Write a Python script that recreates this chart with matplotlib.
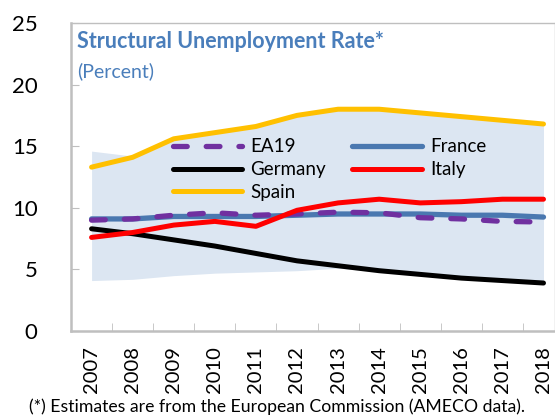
import numpy as np
import matplotlib
matplotlib.use('Agg')
import matplotlib.pyplot as plt

# values (percent)
years = ['2007', '2008', '2009', '2010', '2011', '2012',
         '2013', '2014', '2015', '2016', '2017', '2018']
ea19 = [9.0, 9.1, 9.4, 9.6, 9.4, 9.5, 9.65, 9.6, 9.2, 9.1, 8.9, 8.85]
france = [9.1, 9.1, 9.3, 9.3, 9.3, 9.4, 9.5, 9.5, 9.5, 9.4, 9.4, 9.25]
germany = [8.3, 7.9, 7.4, 6.9, 6.3, 5.7, 5.3, 4.9, 4.6, 4.3, 4.1, 3.9]
italy = [7.6, 8.0, 8.6, 8.9, 8.5, 9.8, 10.4, 10.7, 10.4, 10.5, 10.7, 10.7]
spain = [13.3, 14.1, 15.6, 16.1, 16.6, 17.5, 18.0, 18.0, 17.7, 17.4, 17.1, 16.8]
range_low = [4.1, 4.2, 4.5, 4.7, 4.8, 4.9, 5.1, 4.9, 4.6, 4.3, 4.1, 3.9]
range_high = [14.6, 14.2, 15.6, 16.1, 16.6, 17.5, 18.0, 18.0, 17.7, 17.4, 17.1, 16.8]

plt.rcParams['font.family'] = ['Lato', 'DejaVu Sans']

fig = plt.figure(figsize=(5.55, 4.17), dpi=100)
ax = fig.add_axes([0.128, 0.206, 0.872, 0.739])

x = np.arange(len(years))
ax.fill_between(x, range_low, range_high, color='#dce6f2', lw=0, zorder=1)

ax.plot(x, france, color='#4a78b0', lw=3.8, label='France', zorder=3, solid_capstyle='round')
ax.plot(x, ea19, color='#7030a0', lw=3.8, ls=(0, (2.6, 3.6)), label='EA19', zorder=4,
        dash_capstyle='round')
ax.plot(x, germany, color='black', lw=3.6, label='Germany', zorder=3, solid_capstyle='round')
ax.plot(x, italy, color='#ff0000', lw=3.6, label='Italy', zorder=5, solid_capstyle='round')
ax.plot(x, spain, color='#ffc000', lw=3.6, label='Spain', zorder=5, solid_capstyle='round')

ax.set_ylim(0, 25)
ax.set_xlim(-0.5, 11.28)
ax.set_yticks([0, 5, 10, 15, 20, 25])
ax.tick_params(axis='y', direction='in', length=6, color='#bfbfbf', labelsize=16, pad=24)
ax.set_xticks(x)
ax.set_xticklabels(years, rotation=90, fontsize=14.5)
ax.tick_params(axis='x', which='major', length=0, pad=11)
ax.set_xticks(x[:-1] + 0.5, minor=True)
ax.tick_params(axis='x', which='minor', direction='in', length=6, color='#bfbfbf')
for s in ax.spines.values():
    s.set_color('#bfbfbf')
    s.set_linewidth(1.0)
ax.spines['left'].set_linewidth(1.8)
ax.spines['bottom'].set_linewidth(1.8)

# legend order as in the reference
handles, labels = ax.get_legend_handles_labels()
order = [labels.index(n) for n in ['EA19', 'Germany', 'Spain', 'France', 'Italy']]
ax.legend([handles[i] for i in order], [labels[i] for i in order], ncol=2, frameon=False,
          fontsize=13.5, handlelength=3.7, handletextpad=0.45, columnspacing=1.4,
          labelspacing=0.3, loc='center left', bbox_to_anchor=(0.21, 0.524),
          borderaxespad=0, borderpad=0)

ax.text(0.012, 0.975, 'Structural Unemployment Rate*', transform=ax.transAxes,
        color='#4a7ebb', fontsize=15.5, fontweight='bold', va='top')
ax.text(0.012, 0.872, '(Percent)', transform=ax.transAxes,
        color='#4a7ebb', fontsize=14, va='top')

fig.text(0.052, 0.005, '(*) Estimates are from the European Commission (AMECO data).',
         fontsize=12.7, va='bottom')

fig.savefig('out.png', dpi=100)
